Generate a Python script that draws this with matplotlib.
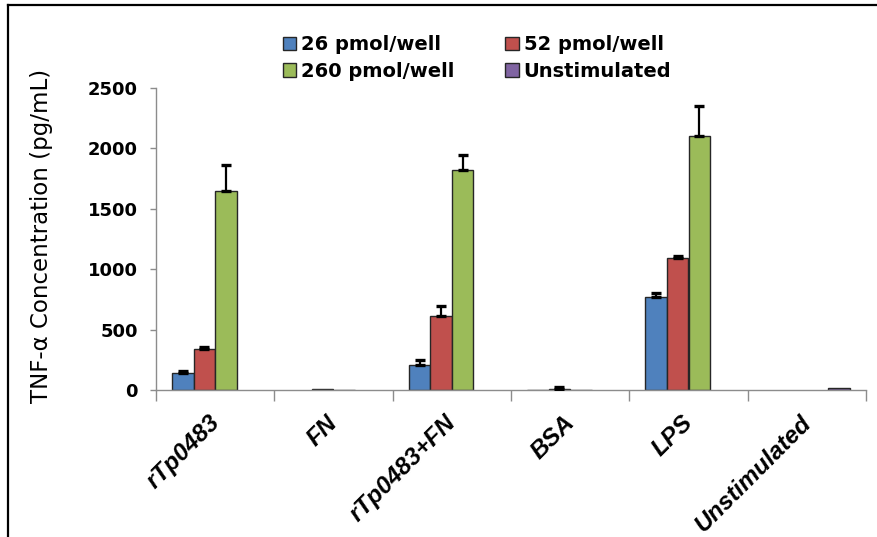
import numpy as np
import matplotlib
matplotlib.use("Agg")
import matplotlib.pyplot as plt
from matplotlib.patches import Patch
from matplotlib.lines import Line2D
from matplotlib.transforms import ScaledTranslation

# Treatment groups and TNF-alpha readouts (pg/mL)
categories = ["rTp0483", "FN", "rTp0483+FN", "BSA", "LPS", "Unstimulated"]
series_names = ["26 pmol/well", "52 pmol/well", "260 pmol/well", "Unstimulated"]

dose_26 = [143, 0, 207, 4, 767, 0]
dose_26_err = [14, 0, 40, 0, 33, 0]
dose_52 = [337, 10, 613, 12, 1090, 0]
dose_52_err = [20, 0, 80, 13, 18, 0]
dose_260 = [1650, 3, 1821, 4, 2105, 0]
dose_260_err = [210, 0, 122, 0, 248, 0]
unstim = [0, 0, 0, 0, 0, 20]
unstim_err = [0, 0, 0, 0, 0, 0]

colors = ["#4F81BD", "#C0504D", "#9BBB59", "#8064A2"]
values = [dose_26, dose_52, dose_260, unstim]
errors = [dose_26_err, dose_52_err, dose_260_err, unstim_err]

plt.rcParams["font.family"] = ["DejaVu Sans"]

fig = plt.figure(figsize=(8.77, 5.37), dpi=100)
ax = fig.add_axes([156 / 877, 1 - 390 / 537, 710 / 877, 302 / 537])

x = np.arange(len(categories))
width = 0.182
offsets = (np.arange(4) - 1.5) * width

for vals, errs, col, off in zip(values, errors, colors, offsets):
    vals = np.asarray(vals, dtype=float)
    errs = np.asarray(errs, dtype=float)
    show = vals > 0
    ax.bar(x[show] + off, vals[show], width, color=col,
           edgecolor="#262626", linewidth=1.0, zorder=2)
    has_err = errs > 0
    if has_err.any():
        ax.errorbar(x[has_err] + off, vals[has_err],
                    yerr=[np.zeros(has_err.sum()), errs[has_err]],
                    fmt="none", ecolor="black", elinewidth=1.6,
                    capsize=3.5, capthick=2.4, zorder=3)

ax.set_xlim(-0.5, len(categories) - 0.5)
ax.set_ylim(0, 2500)
ax.set_yticks(np.arange(0, 2501, 500))
ax.tick_params(axis="y", direction="out", length=4, width=1,
               color="#8c8c8c", labelsize=13, pad=9)
for lab in ax.get_yticklabels():
    lab.set_fontweight("bold")

# category separators on the x axis
ax.set_xticks(x)
ax.set_xticklabels([])
ax.tick_params(axis="x", which="major", length=0)
ax.set_xticks(np.arange(-0.5, len(categories)), minor=True)
ax.tick_params(axis="x", which="minor", direction="out", length=8,
               width=1, color="#8c8c8c")

for side in ["top", "right"]:
    ax.spines[side].set_visible(False)
for side in ["left", "bottom"]:
    ax.spines[side].set_color("#8c8c8c")
    ax.spines[side].set_linewidth(1)

# rotated category labels
for xi, name in zip(x, categories):
    tr = ax.get_xaxis_transform() + ScaledTranslation(9 / 100, -21 / 100,
                                                       fig.dpi_scale_trans)
    ax.text(xi, 0, name, transform=tr, rotation=45, ha="right", va="top",
            fontsize=17.5, fontweight="bold", fontstyle="italic",
            family=["Liberation Sans", "DejaVu Sans"])

fig.text(42 / 877, 1 - 236 / 537, "TNF-\u03b1 Concentration (pg/mL)",
         rotation=90, ha="center", va="center", fontsize=16.5)

order = [0, 2, 1, 3]
handles = [Patch(facecolor=colors[i], edgecolor="#262626", linewidth=1.0)
           for i in order]
labels = [series_names[i] for i in order]
fig.legend(handles, labels, loc="center", ncol=2,
           bbox_to_anchor=(477 / 877, 1 - 58 / 537), frameon=False,
           prop={"size": 14, "weight": "bold"}, handlelength=0.7,
           handleheight=0.7, handletextpad=0.25, columnspacing=2.6,
           labelspacing=0.4)

# outer frame lines (left and top)
fig.add_artist(Line2D([8 / 877, 8 / 877], [0, 1 - 5 / 537],
                      transform=fig.transFigure, color="black", linewidth=1.6))
fig.add_artist(Line2D([8 / 877, 1], [1 - 5 / 537, 1 - 5 / 537],
                      transform=fig.transFigure, color="black", linewidth=1.6))

fig.savefig("out.png", dpi=100, facecolor="white")
